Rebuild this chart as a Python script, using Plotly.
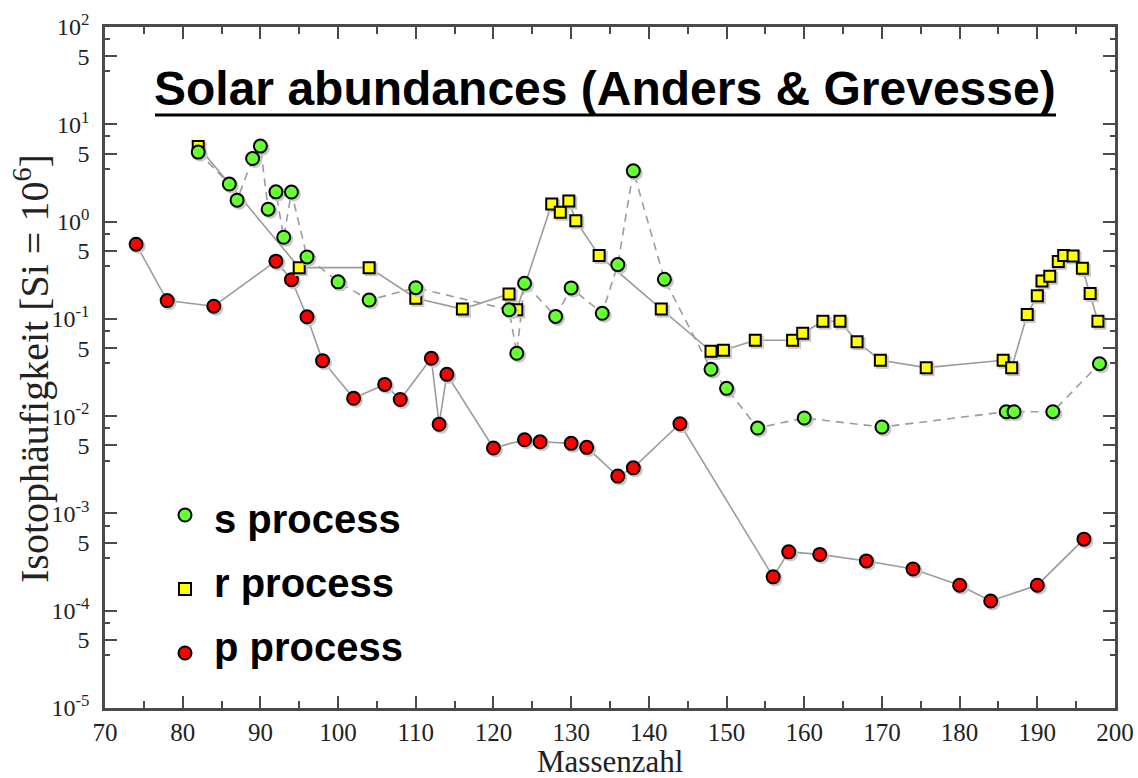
import plotly.graph_objects as go

# Solar isotopic abundances (Si = 10^6), split by nucleosynthesis process
s_mass = [82, 86, 87, 89, 90, 91, 92, 93, 94, 96, 100, 104, 110, 122, 123, 124,
          128, 130, 134, 136, 138, 142, 148, 150, 154, 160, 170, 186, 187, 192, 198]
s_abund = [5.18, 2.43, 1.66, 4.45, 5.97, 1.34, 2.02, 0.69, 2.01, 0.433, 0.240, 0.156,
           0.209, 0.124, 0.0443, 0.232, 0.106, 0.208, 0.114, 0.361, 3.32, 0.255,
           0.0303, 0.0193, 0.00755, 0.00957, 0.00773, 0.0111, 0.0111, 0.0111, 0.0346]

r_mass = [82, 95, 104, 110, 116, 122, 123, 127.5, 128.6, 129.7, 130.6, 133.6, 141.6,
          148, 149.6, 153.7, 158.5, 159.8, 162.4, 164.6, 166.8, 169.8, 175.7, 185.6,
          186.7, 188.7, 190.0, 190.6, 191.6, 192.7, 193.4, 194.6, 195.8, 196.8, 197.8]
r_abund = [5.91, 0.336, 0.336, 0.163, 0.126, 0.180, 0.124, 1.52, 1.25, 1.63, 1.02,
           0.447, 0.126, 0.0464, 0.0475, 0.0603, 0.0603, 0.0711, 0.0945, 0.0945,
           0.0582, 0.0375, 0.0315, 0.0375, 0.0315, 0.111, 0.173, 0.245, 0.274,
           0.388, 0.447, 0.444, 0.332, 0.182, 0.0945]

p_mass = [74, 78, 84, 92, 94, 96, 98, 102, 106, 108, 112, 113, 114, 120, 124, 126,
          130, 132, 136, 138, 144, 156, 158, 162, 168, 174, 180, 184, 190, 196]
p_abund = [0.585, 0.154, 0.135, 0.392, 0.253, 0.105, 0.0372, 0.01525, 0.0212, 0.01483,
           0.0393, 0.00824, 0.0269, 0.0047, 0.00571, 0.00545, 0.00525, 0.00478,
           0.00242, 0.00294, 0.00836, 2.23e-4, 4.03e-4, 3.79e-4, 3.25e-4, 2.69e-4,
           1.83e-4, 1.26e-4, 1.83e-4, 5.44e-4]

decades = [-5, -4, -3, -2, -1, 0, 1, 2]
legend_labels = ["s process", "r process", "p process"]
title_text = "Solar abundances (Anders &amp; Grevesse)"
x_title = "Massenzahl"
y_title = "Isotophäufigkeit [Si = 10<sup>6</sup>]"

GREEN = "#66ff33"
YELLOW = "#ffff00"
RED = "#ff0000"
LINE_GREY = "#9c9c9c"
SHADOW = "#c8c8c8"
AXIS = "#4a4a4a"
SERIF = "Liberation Serif"
SANS = "Liberation Sans"

X_MIN, X_MAX = 70, 200
Y_DEC_MIN, Y_DEC_MAX = -5, 2
M_L, M_R, M_T, M_B = 105, 23, 27, 70
W, H = 1138, 778
plot_w = W - M_L - M_R
plot_h = H - M_T - M_B

def px_to_paper_x(px):
    return (px - M_L) / plot_w

def px_to_paper_y(py):
    return (H - M_B - py) / plot_h

# major ticks at 10^n and 5*10^n, minor ticks in between
y_tickvals, y_ticktext, y_minor = [], [], []
for d in decades:
    y_tickvals.append(10.0 ** d)
    y_ticktext.append("10<sup>%d</sup>" % d)
    if d < Y_DEC_MAX:
        y_tickvals.append(5 * 10.0 ** d)
        y_ticktext.append("5")
        y_minor += [3.5 * 10.0 ** d, 7.5 * 10.0 ** d]

# soft drop shadow: shift by a couple of pixels right and down
px_x = (X_MAX - X_MIN) / plot_w
px_y = (Y_DEC_MAX - Y_DEC_MIN) / plot_h
def shadow(xs, ys, dpx=2.0):
    return ([x + dpx * px_x for x in xs], [y * 10 ** (-dpx * px_y) for y in ys])

fig = go.Figure()

# connecting lines first so every marker sits on top
for xs, ys, dash in [(p_mass, p_abund, "solid"),
                     (r_mass, r_abund, "solid"),
                     (s_mass, s_abund, "8px,6px")]:
    fig.add_trace(go.Scatter(x=xs, y=ys, mode="lines", hoverinfo="skip",
                             line=dict(color=LINE_GREY, width=1.6, dash=dash),
                             showlegend=False))

series = [(p_mass, p_abund, "circle", 13, RED, "p process"),
          (r_mass, r_abund, "square", 11, YELLOW, "r process"),
          (s_mass, s_abund, "circle", 13, GREEN, "s process")]

for xs, ys, sym, size, col, name in series:
    sx, sy = shadow(xs, ys)
    fig.add_trace(go.Scatter(x=sx, y=sy, mode="markers", hoverinfo="skip",
                             marker=dict(symbol=sym, size=size + 2, color=SHADOW,
                                         line=dict(width=0)),
                             showlegend=False))
    fig.add_trace(go.Scatter(x=xs, y=ys, mode="markers", name=name,
                             marker=dict(symbol=sym, size=size, color=col,
                                         line=dict(color="black", width=2)),
                             showlegend=False))

# hand-placed key inside the plot area
key_x = px_to_paper_x(185)
key_rows = [(515, GREEN, "circle"), (589, YELLOW, "square"), (653, RED, "circle")]
text_rows = [519, 583, 647]
shapes = []
annotations = []
for (ky, col, sym), ty, label in zip(key_rows, text_rows, legend_labels):
    half = 6.5 if sym == "circle" else 6
    shapes.append(dict(type="circle" if sym == "circle" else "rect",
                       xref="paper", yref="paper",
                       xsizemode="pixel", ysizemode="pixel",
                       xanchor=key_x, yanchor=px_to_paper_y(ky),
                       x0=-half, x1=half, y0=-half, y1=half,
                       fillcolor=col, line=dict(color="black", width=2)))
    annotations.append(dict(xref="paper", yref="paper",
                            x=px_to_paper_x(212), y=px_to_paper_y(ty),
                            xanchor="left", yanchor="middle", showarrow=False,
                            text="<b>%s</b>" % label,
                            font=dict(family=SANS, size=40, color="black")))

# heading with a solid underline
annotations.append(dict(xref="paper", yref="paper", x=px_to_paper_x(605),
                        y=px_to_paper_y(88),
                        xanchor="center", yanchor="middle", showarrow=False,
                        text="<b>%s</b>" % title_text,
                        font=dict(family=SANS, size=48, color="black")))
shapes.append(dict(type="line", xref="paper", yref="paper",
                   x0=px_to_paper_x(155), x1=px_to_paper_x(1056),
                   y0=px_to_paper_y(115), y1=px_to_paper_y(115),
                   line=dict(color="black", width=3)))

# axis titles
annotations.append(dict(xref="paper", yref="paper", x=px_to_paper_x(31),
                        y=px_to_paper_y(369),
                        xanchor="center", yanchor="middle", showarrow=False,
                        textangle=-90, text=y_title,
                        font=dict(family=SERIF, size=40, color="#222")))
annotations.append(dict(xref="paper", yref="paper", x=px_to_paper_x(610),
                        y=px_to_paper_y(761),
                        xanchor="center", yanchor="middle", showarrow=False,
                        text=x_title,
                        font=dict(family=SERIF, size=31, color="#222")))

fig.update_layout(
    width=W, height=H,
    margin=dict(l=M_L, r=M_R, t=M_T, b=M_B, autoexpand=False),
    paper_bgcolor="white", plot_bgcolor="white",
    shapes=shapes, annotations=annotations,
    xaxis=dict(range=[X_MIN, X_MAX], tickmode="linear", tick0=70, dtick=10,
               ticks="inside", ticklen=12, tickwidth=1.5, tickcolor=AXIS,
               minor=dict(dtick=5, ticks="inside", ticklen=7, tickwidth=1.5,
                          tickcolor=AXIS),
               showline=True, linecolor=AXIS, linewidth=2.5, mirror="allticks",
               showgrid=False, zeroline=False, automargin=False,
               tickfont=dict(family=SERIF, size=25, color="#222")),
    yaxis=dict(type="log", range=[Y_DEC_MIN, Y_DEC_MAX], tickmode="array",
               tickvals=y_tickvals, ticktext=y_ticktext,
               ticks="inside", ticklen=12, tickwidth=1.5, tickcolor=AXIS,
               minor=dict(tickvals=y_minor, ticks="inside", ticklen=5,
                          tickwidth=1.5, tickcolor=AXIS),
               showline=True, linecolor=AXIS, linewidth=2.5, mirror="allticks",
               showgrid=False, zeroline=False, automargin=False,
               ticklabelstandoff=8,
               tickfont=dict(family=SERIF, size=24, color="#222")),
)

fig.write_html("out.html")
